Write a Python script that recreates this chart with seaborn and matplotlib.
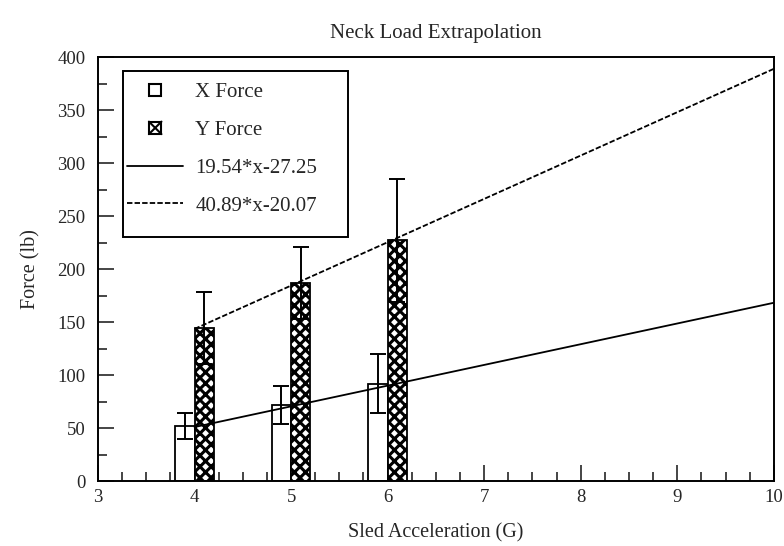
import numpy as np
import pandas as pd
import matplotlib
matplotlib.use("Agg")
import matplotlib.pyplot as plt
import seaborn as sns
from matplotlib.patches import Patch, Rectangle
from matplotlib.lines import Line2D
from matplotlib.legend_handler import HandlerPatch
from matplotlib.ticker import MultipleLocator

# Measured neck loads per sled acceleration
accel = [4, 5, 6]
x_force = [52, 72, 92]
x_err = [12, 18, 28]
y_force = [144, 187, 227]
y_err = [34, 34, 58]

# Linear fits
x_fit = (19.54, -27.25)
y_fit = (40.89, -20.07)
fit_range = [4, 10]

sns.set_style("ticks")
plt.rcParams["font.family"] = ["Liberation Serif", "DejaVu Serif"]
plt.rcParams["hatch.linewidth"] = 2.2

fig = plt.figure(figsize=(7.84, 5.46), dpi=100)
ax = fig.add_axes([0.125, 0.119, 0.862, 0.7766])

df = pd.DataFrame({
    "accel": accel * 2,
    "force": x_force + y_force,
    "series": ["X Force"] * 3 + ["Y Force"] * 3,
})
sns.barplot(data=df, x="accel", y="force", hue="series", native_scale=True,
            width=0.4, palette=["white", "white"], edgecolor="black",
            linewidth=1.3, errorbar=None, legend=False, ax=ax)

n = len(accel)
for i, p in enumerate(ax.patches[:2 * n]):
    if i >= n:
        p.set_hatch("xxx")

# Error bars at bar centres
ax.errorbar(np.array(accel) - 0.1, x_force, yerr=x_err, fmt="none",
            ecolor="black", elinewidth=1.4, capsize=6, capthick=1.4)
ax.errorbar(np.array(accel) + 0.1, y_force, yerr=y_err, fmt="none",
            ecolor="black", elinewidth=1.4, capsize=6, capthick=1.4)

xs = np.array(fit_range, dtype=float)
lines = pd.DataFrame({
    "x": np.concatenate([xs, xs]),
    "y": np.concatenate([x_fit[0] * xs + x_fit[1], y_fit[0] * xs + y_fit[1]]),
    "fit": ["x"] * 2 + ["y"] * 2,
})
sns.lineplot(data=lines[lines.fit == "x"], x="x", y="y", color="black",
             linewidth=1.3, ax=ax)
sns.lineplot(data=lines[lines.fit == "y"], x="x", y="y", color="black",
             linewidth=1.3, linestyle=(0, (3, 1.2)), ax=ax)

ax.set_xlim(3, 10)
ax.set_ylim(0, 400)
ax.xaxis.set_major_locator(MultipleLocator(1))
ax.xaxis.set_minor_locator(MultipleLocator(0.25))
ax.yaxis.set_major_locator(MultipleLocator(50))
ax.yaxis.set_minor_locator(MultipleLocator(25))
ax.tick_params(which="both", direction="in", top=False, right=False,
               labelsize=13.5, width=1.2)
ax.tick_params(which="major", length=11.5)
ax.tick_params(axis="x", which="major", pad=6)
ax.tick_params(axis="y", which="major", pad=9)
ax.tick_params(which="minor", length=6.5)
for s in ax.spines.values():
    s.set_visible(True)
    s.set_linewidth(1.4)
    s.set_color("black")

ax.set_xlabel("Sled Acceleration (G)", fontsize=14.5, labelpad=12)
ax.set_ylabel("Force (lb)", fontsize=14.5, labelpad=12)
ax.set_title("Neck Load Extrapolation", fontsize=15, pad=14)


class SquareHandler(HandlerPatch):
    """Draws a patch legend entry as a small centred square, crossed if hatched."""

    def create_artists(self, legend, orig_handle, xdescent, ydescent,
                       width, height, fontsize, trans):
        side = 0.6 * fontsize
        x0 = -xdescent + (width - side) / 2
        y0 = -ydescent + (height - side) / 2
        arts = [Rectangle((x0, y0), side, side, facecolor="white",
                          edgecolor="black", linewidth=1.5, transform=trans)]
        if orig_handle.get_hatch():
            for ys in ((y0, y0 + side), (y0 + side, y0)):
                arts.append(Line2D([x0, x0 + side], list(ys), color="black",
                                   linewidth=1.5, transform=trans))
        return arts


handles = [
    Patch(facecolor="white", edgecolor="black", label="X Force"),
    Patch(facecolor="white", edgecolor="black", hatch="x", label="Y Force"),
    Line2D([], [], color="black", linewidth=1.3,
           label=f"{x_fit[0]:.2f}*x{x_fit[1]:.2f}"),
    Line2D([], [], color="black", linewidth=1.3, linestyle=(0, (3, 1.2)),
           label=f"{y_fit[0]:.2f}*x{y_fit[1]:.2f}"),
]

# Legend frame drawn as its own box so its padding can be set freely
ax.add_patch(Rectangle((0.037, 0.575), 0.333, 0.392, transform=ax.transAxes,
                       facecolor="white", edgecolor="black", linewidth=1.4,
                       zorder=4.5))
leg = ax.legend(handles=handles, loc="upper left",
                bbox_to_anchor=(0.043, 0.939),
                fontsize=15, frameon=False, labelspacing=0.87,
                handlelength=2.7, borderpad=0, borderaxespad=0,
                handletextpad=0.58, handler_map={Patch: SquareHandler()})
leg.set_zorder(5)

fig.savefig("out.png", dpi=100, facecolor="white")
